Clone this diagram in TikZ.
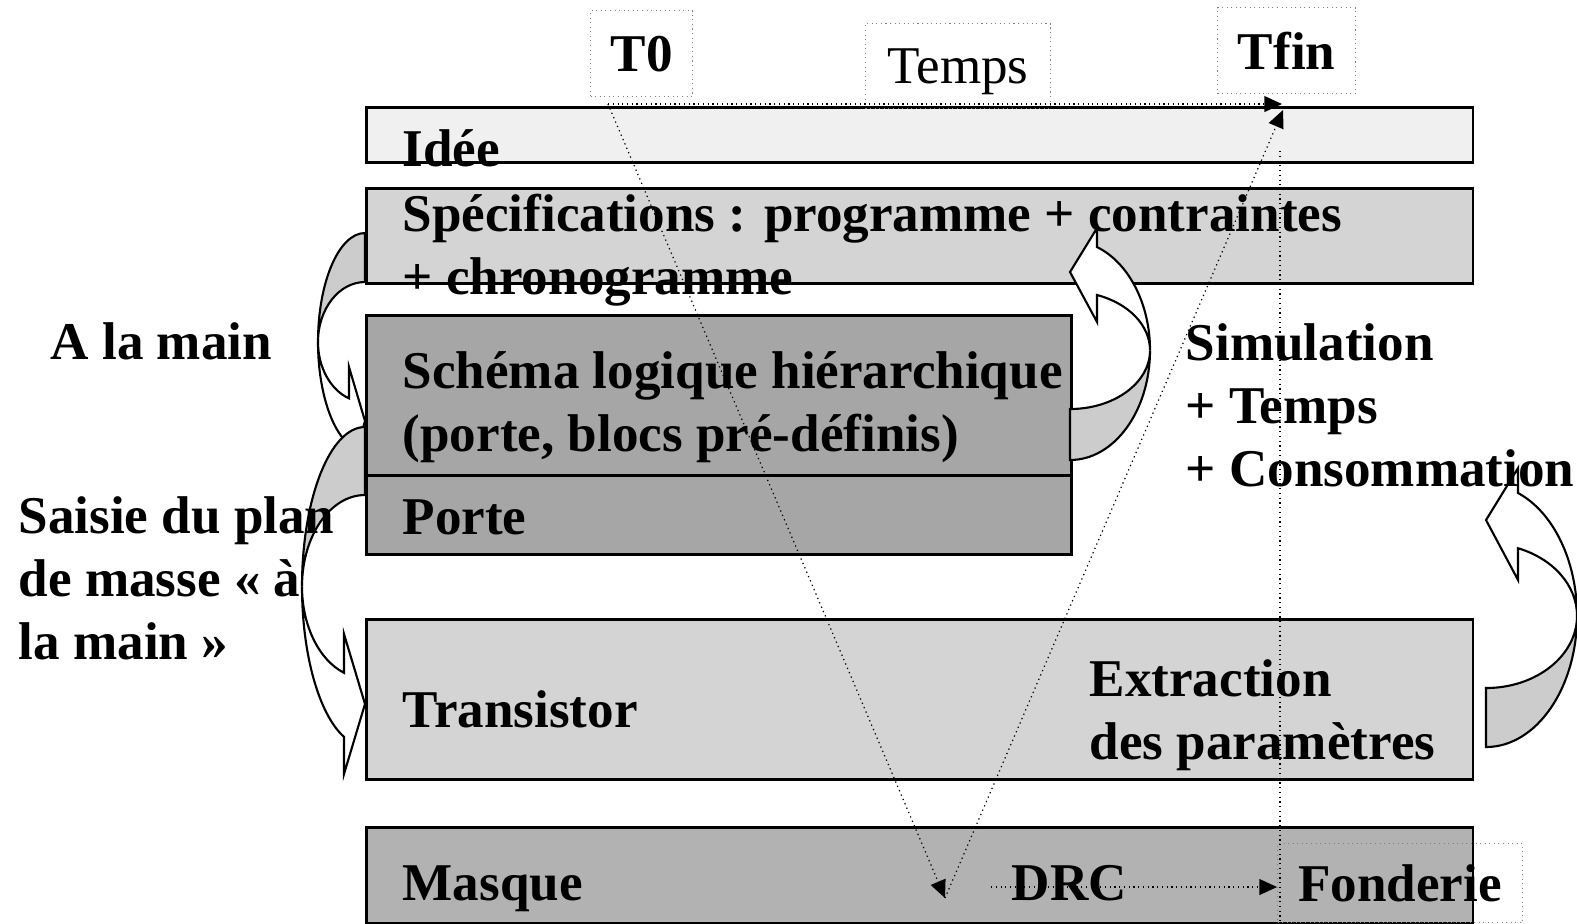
\documentclass[tikz,border=0pt]{standalone}
\usepackage{fontspec}
\setmainfont{Liberation Serif}
\usetikzlibrary{arrows.meta}

\definecolor{ideefill}{gray}{0.94}
\definecolor{specfill}{gray}{0.83}
\definecolor{schemafill}{gray}{0.65}
\definecolor{masquefill}{gray}{0.70}
\definecolor{backfill}{gray}{0.80}

\begin{document}
\begin{tikzpicture}[
		x=0.01cm, y=-0.01cm,
		stage/.style={draw=black, line width=0.8pt, inner sep=0, anchor=north west},
		lbl/.style={font=\fontsize{15.1}{17.9}\selectfont\bfseries, inner sep=0, anchor=base west, align=left},
		tbox/.style={draw=gray, densely dotted, line width=0.3pt, inner sep=0, anchor=north west, text depth=0pt},
		frontface/.style={draw=black, line width=0.6pt, fill=white, line join=miter},
		backface/.style={frontface, fill=backfill},
		tline/.style={densely dotted, line width=0.35pt},
		timearrow/.style={tline, -{Triangle[length=5pt, width=4.5pt]}}]
		\useasboundingbox (0,0) rectangle (1577,923);

		% les niveaux
		\node[stage, fill=ideefill,   minimum width=11.06cm, minimum height=0.55cm] (idee)   at (365,106) {};
		\node[stage, fill=specfill,   minimum width=11.06cm, minimum height=0.95cm] (spec)   at (365,187) {};
		\node[stage, fill=schemafill, minimum width=7.05cm,  minimum height=1.60cm] (schema) at (365,314) {};
		\node[stage, fill=schemafill, minimum width=7.05cm,  minimum height=0.79cm] (porte)  at (365,474) {};
		\node[stage, fill=specfill,   minimum width=11.06cm, minimum height=1.60cm] (trans)  at (365,618) {};
		\node[stage, fill=masquefill, minimum width=11.06cm, minimum height=0.96cm] (masque) at (365,826) {};

		% fleches courbes
		\filldraw[backface] (365,233) arc[start angle=270, end angle=180, x radius=47, y radius=109]
			arc[start angle=180, end angle=270, x radius=47, y radius=60] -- cycle;
		\filldraw[frontface] (318,342) arc[start angle=180, end angle=109.9, x radius=47, y radius=109]
			-- (349,476) -- (365,421) -- (349,367) -- (349,398.4)
			arc[start angle=109.9, end angle=180, x radius=47, y radius=60] -- cycle;

		\filldraw[backface] (365,427) arc[start angle=270, end angle=180, x radius=63, y radius=159.5]
			arc[start angle=180, end angle=270, x radius=63, y radius=91.5] -- cycle;
		\filldraw[frontface] (302,586.5) arc[start angle=180, end angle=109.47, x radius=63, y radius=159.5]
			-- (344,774) -- (365,704) -- (344,634) -- (344,672.8)
			arc[start angle=109.47, end angle=180, x radius=63, y radius=91.5] -- cycle;

		\filldraw[backface] (1070,460) arc[start angle=90, end angle=0, x radius=80, y radius=109.7]
			arc[start angle=0, end angle=90, x radius=80, y radius=58.7] -- cycle;
		\filldraw[frontface] (1150,350.3) arc[start angle=0, end angle=-70.27, x radius=80, y radius=109.7]
			-- (1097,228) -- (1070,272) -- (1097,322) -- (1097,295)
			arc[start angle=-70.27, end angle=0, x radius=80, y radius=58.7] -- cycle;

		\filldraw[backface] (1486,747) arc[start angle=90, end angle=0, x radius=91, y radius=131.2]
			arc[start angle=0, end angle=90, x radius=91, y radius=72.2] -- cycle;
		\filldraw[frontface] (1577,615.8) arc[start angle=0, end angle=-69.41, x radius=91, y radius=131.2]
			-- (1518,468) -- (1486,520) -- (1518,580) -- (1518,548.2)
			arc[start angle=-69.41, end angle=0, x radius=91, y radius=72.2] -- cycle;

		% textes (ancre sur la derniere ligne)
		\node[lbl] (ideetxt)   at (402,166) {Idée};
		\node[lbl] (spectxt)   at (402,294) {Spécifications : programme + contraintes\\+ chronogramme};
		\node[lbl] (schematxt) at (402,451) {Schéma logique hiérarchique\\(porte, blocs pré-définis)};
		\node[lbl] (portetxt)  at (402,534) {Porte};
		\node[lbl] (transtxt)  at (402,727) {Transistor};
		\node[lbl] (extrtxt)   at (1089,759) {Extraction\\des paramètres};
		\node[lbl] (masquetxt) at (402,900) {Masque};
		\node[lbl] (drc)       at (1011,900) {DRC};
		\node[lbl] (alamain)   at (50,359) {A la main};
		\node[lbl] (saisie)    at (18,659) {Saisie du plan\\de masse « à\\la main »};
		\node[lbl] (simu)      at (1185,486) {Simulation\\+ Temps\\+ Consommation};

		% axe du temps
		\node[tbox, minimum width=1.02cm, minimum height=0.86cm, font=\fontsize{15.1}{17.9}\selectfont\bfseries] (t0) at (590,10) {T0};
		\node[tbox, minimum width=1.85cm, minimum height=0.85cm, font=\fontsize{15.1}{17.9}\selectfont] (temps) at (865,23) {Temps};
		\node[tbox, minimum width=1.38cm, minimum height=0.86cm, font=\fontsize{15.1}{17.9}\selectfont\bfseries] (tfin) at (1217,7) {Tfin};
		\node[tbox, minimum width=2.45cm, minimum height=0.79cm, font=\fontsize{15.1}{17.9}\selectfont\bfseries] (fonderie) at (1277,843) {Fonderie};

		\coordinate (debut) at (608,104);
		\coordinate (fin) at (1282,104);
		\coordinate (fin2) at (1283,110);
		\coordinate (creux) at (945,898);
		\coordinate (drcdep) at (991,887);
		\coordinate (vhaut) at (1280,151);
		\coordinate (vbas) at (1280,922);

		\draw[timearrow] (debut) -- (fin);
		\draw[timearrow] (debut) -- (creux);
		\draw[timearrow] (creux) -- (fin2);
		\draw[timearrow] (drcdep) -- (fonderie.west |- drcdep);
		\draw[tline] (vhaut) -- (vbas);
\end{tikzpicture}
\end{document}
